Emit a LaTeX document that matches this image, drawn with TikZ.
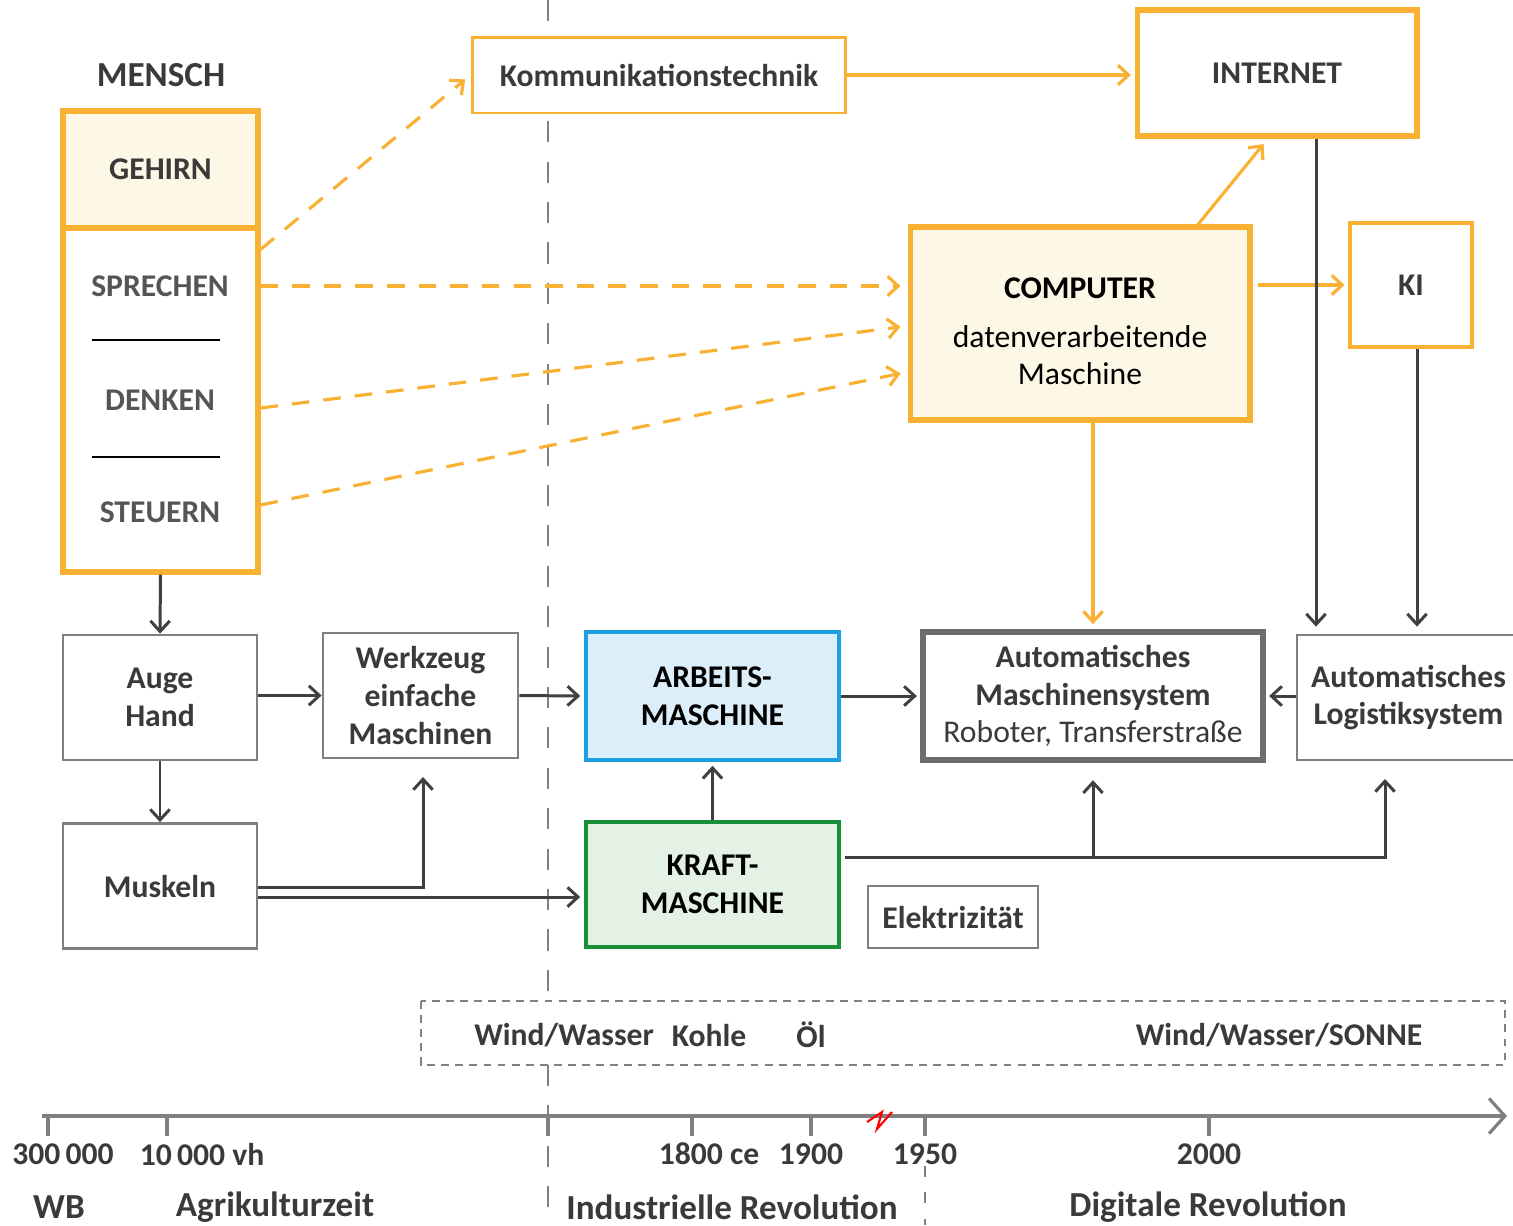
\documentclass[tikz,border=0pt]{standalone}
\usepackage{fontspec}
\setmainfont{Carlito}
\usetikzlibrary{arrows.meta}

\definecolor{orng}{HTML}{F8B133}
\definecolor{cream}{HTML}{FDF8E6}
\definecolor{abblue}{HTML}{1BA0E2}
\definecolor{abfill}{HTML}{DDEEFB}
\definecolor{krgreen}{HTML}{1A8F3A}
\definecolor{krfill}{HTML}{E4F1E5}
\definecolor{boxgray}{HTML}{808080}
\definecolor{dline}{HTML}{404040}
\definecolor{txtgray}{HTML}{3A3A3A}
\definecolor{midgray}{HTML}{555555}

\begin{document}
\begin{tikzpicture}[x=0.02cm,y=-0.02cm,
  >={Straight Barb[length=6pt,width=11pt]},
  every node/.style={font=\fontsize{18}{21.5}\selectfont\bfseries,text=txtgray},
  graybox/.style={draw=boxgray,line width=1.6pt,align=center,inner sep=0pt,fill=white},
  orangebox/.style={draw=orng,line width=2.9pt,align=center,inner sep=0pt},
  thinorange/.style={draw=orng,line width=1.7pt,align=center,inner sep=0pt,fill=white},
  darrow/.style={->,draw=dline,line width=1.7pt},
  oarrow/.style={->,draw=orng,line width=1.8pt},
  odash/.style={oarrow,dash pattern=on 10pt off 8pt,shorten >=4pt},
  era/.style={font=\fontsize{20}{24}\selectfont\bfseries},
  energy/.style={font=\fontsize{18}{22}\selectfont\bfseries},
  axtick/.style={draw=boxgray,line width=1.8pt}]
  \useasboundingbox (0,0) rectangle (1513,1225);

  % epoch borders
  \draw[boxgray,line width=1.2pt,dash pattern=on 12pt off 11pt] (548,0) -- (548,1001);
  \draw[boxgray,line width=1.2pt,dash pattern=on 12pt off 11pt] (548,1065) -- (548,1225);
  \draw[boxgray,line width=1.2pt,dash pattern=on 6pt off 9pt] (925,1166) -- (925,1225);

  % Left: human
  \node[era] (menschlbl) at (161,75) {MENSCH};
  \node[orangebox,fill=cream,minimum width=3.9cm,minimum height=2.34cm] (gehirn) at (160.5,169.5) {GEHIRN};
  \node[orangebox,minimum width=3.9cm,minimum height=6.88cm] (mensch) at (160.5,400) {};
  \node[text=midgray] (sprechen) at (160,286) {SPRECHEN};
  \node[text=midgray] (denken) at (160,400) {DENKEN};
  \node[text=midgray] (steuern) at (160,512) {STEUERN};
  \draw[black,line width=1.5pt] (92,340) -- (220,340);
  \draw[black,line width=1.5pt] (92,457) -- (220,457);

  % top row: information
  \node[thinorange,minimum width=7.48cm,minimum height=1.52cm] (komm) at (659,75) {Kommunikationstechnik};
  \node[orangebox,minimum width=5.6cm,minimum height=2.52cm] (internet) at (1277,73) {INTERNET};
  \node[orangebox,fill=cream,text=black,minimum width=6.8cm,minimum height=3.86cm] (computer) at (1080,323.5)
    {\rule{0pt}{21pt}COMPUTER\\[6pt]{\mdseries datenverarbeitende}\\{\mdseries Maschine}};
  \node[thinorange,line width=2.2pt,minimum width=2.44cm,minimum height=2.48cm] (ki) at (1411,285) {KI};

  % middle rows: machines
  \node[graybox,minimum width=3.88cm,minimum height=2.5cm] (auge) at (160,697.5) {Auge\\Hand};
  \node[graybox,minimum width=3.9cm,minimum height=2.5cm] (werkzeug) at (420.5,695.5) {Werkzeug\\einfache\\Maschinen};
  \node[graybox,draw=abblue,line width=2.6pt,fill=abfill,text=black,minimum width=5.06cm,minimum height=2.56cm] (arbeit) at (712.5,696) {ARBEITS-\\MASCHINE};
  \node[graybox,draw=boxgray!85!black,line width=3pt,minimum width=6.8cm,minimum height=2.56cm] (autom) at (1093,696)
    {Automatisches\\Maschinensystem\\{\mdseries Roboter, Transferstraße}};
  \node[graybox,minimum width=4.46cm,minimum height=2.5cm] (logist) at (1408.5,697.5) {Automatisches\\Logistiksystem};
  \node[graybox,minimum width=3.88cm,minimum height=2.5cm] (muskeln) at (160,886) {Muskeln};
  \node[graybox,draw=krgreen,line width=2.6pt,fill=krfill,text=black,minimum width=5.06cm,minimum height=2.5cm] (kraft) at (712.5,884.5) {KRAFT-\\MASCHINE};
  \node[graybox,minimum width=3.4cm,minimum height=1.24cm] (elektr) at (953,917) {Elektrizität};

  % energy sources
  \draw[boxgray,line width=1.2pt,dash pattern=on 4.5pt off 3.5pt] (421,1001) rectangle (1505,1065);
  \node[energy] (windalt) at (564,1035) {Wind/Wasser};
  \node[energy] (kohle) at (709,1035) {Kohle};
  \node[energy] (oel) at (811,1035) {Öl};
  \node[energy] (windneu) at (1279,1035) {Wind/Wasser/SONNE};

  % orange links
  \draw[odash] ([yshift=-0.48cm]mensch.north east) -- (komm.west);
  \draw[odash] (mensch.east |- sprechen) -- (computer.west |- sprechen);
  \draw[odash] ([yshift=-0.16cm]mensch.east |- denken) -- ([yshift=-0.05cm]computer.west);
  \draw[odash] ([yshift=0.14cm]mensch.east |- steuern) -- ([yshift=-0.97cm]computer.west);
  \draw[oarrow,shorten >=2pt] (komm.east) -- (internet.west |- komm.east);
  \draw[oarrow,shorten >=4pt] ([xshift=2.36cm]computer.north) -- ([xshift=-0.18cm]internet.south);
  \draw[oarrow,shorten >=2pt,shorten <=3pt] (computer.east |- ki.west) -- (ki.west);
  \draw[oarrow,shorten >=3pt] (autom.north |- computer.south) -- (autom.north);

  % dark links
  \draw[darrow,shorten >=4pt] ([xshift=0.78cm]internet.south) -- ([xshift=0.78cm]internet.south |- logist.north);
  \draw[darrow,shorten >=4pt] ([xshift=0.12cm]ki.south) -- ([xshift=0.12cm]ki.south |- logist.north);
  \draw[darrow] (mensch.south) -- (auge.north);
  \draw[darrow] (auge.south) -- (muskeln.north);
  \draw[darrow] (auge.east |- werkzeug.west) -- (werkzeug.west);
  \draw[darrow,shorten >=2pt] (werkzeug.east) -- (arbeit.west);
  \draw[darrow,shorten >=2pt] (arbeit.east) -- (autom.west);
  \draw[darrow,shorten >=2pt] (logist.west |- autom.east) -- (autom.east);
  \draw[darrow,shorten >=2pt] (kraft.north) -- (arbeit.south);
  \coordinate (musktool) at ([yshift=-0.02cm]muskeln.east);
  \draw[darrow,shorten >=10pt] (musktool) -| ([xshift=0.05cm]werkzeug.south);
  \coordinate (muskkraft) at ([yshift=-0.22cm]muskeln.east);
  \draw[darrow,shorten >=2pt] (muskkraft) -- (kraft.west |- muskkraft);
  \coordinate (strom) at ([yshift=0.55cm,xshift=0.08cm]kraft.east);
  \draw[darrow,shorten >=10pt] (strom) -| ([xshift=-0.47cm]logist.south);
  \draw[darrow,shorten >=10pt] (autom.south |- strom) -- (autom.south);

  % timeline
  \coordinate (axstart) at (42,1116);
  \coordinate (axend) at (1507,1116);
  \draw[axtick,-{Straight Barb[length=9pt,width=20pt]}] (axstart) -- (axend);
  \foreach \tx in {48,167,548,692,811,925,1209}
    \draw[axtick] (\tx,1116) -- (\tx,1136);
  \draw[red,line width=1.2pt] (867,1122) -- (882,1112) -- (877,1129) -- (892,1112);
  \node (t300) at (63,1154) {300\,000};
  \node (t10) at (202,1154) {10\,000 vh};
  \node (t1800) at (709,1154) {1800 ce};
  \node (t1900) at (811,1154) {1900};
  \node (t1950) at (925,1154) {1950};
  \node (t2000) at (1209,1154) {2000};
  \node[era] (wb) at (59,1207) {WB};
  \node[era] (agri) at (275,1207) {Agrikulturzeit};
  \node[era] (indu) at (732,1207) {Industrielle Revolution};
  \node[era] (digi) at (1208,1207) {Digitale Revolution};
\end{tikzpicture}
\end{document}
